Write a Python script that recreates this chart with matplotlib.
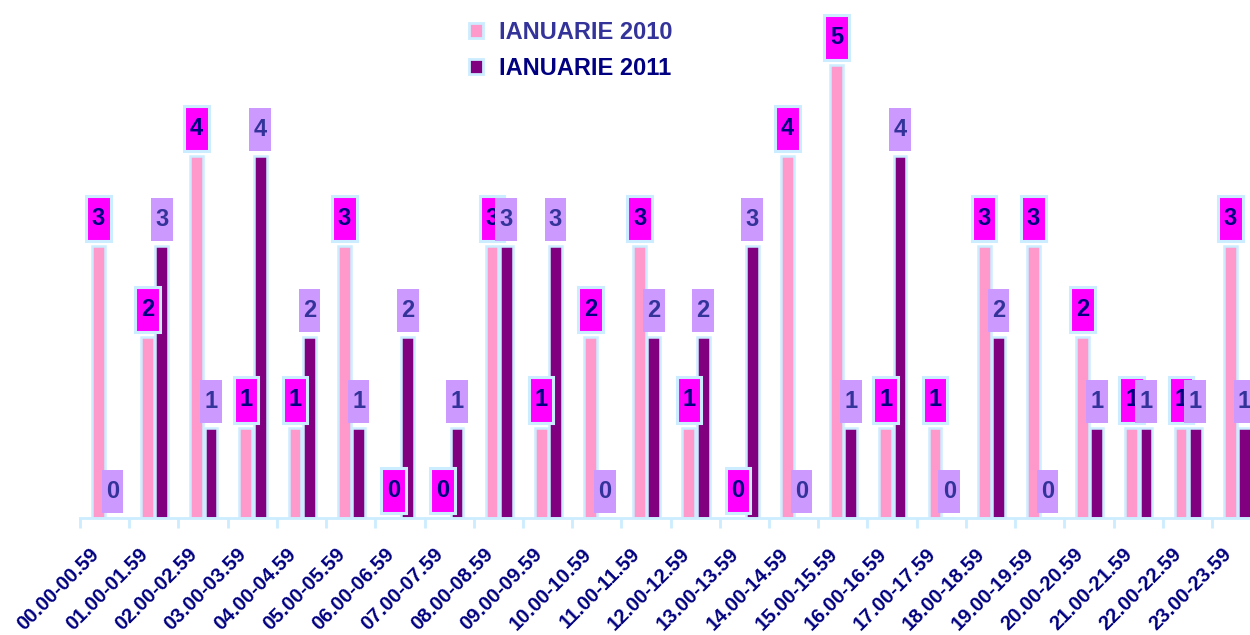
import numpy as np
import matplotlib.pyplot as plt
from matplotlib.patches import Patch

plt.rcParams['font.family'] = ['Liberation Sans', 'DejaVu Sans']
plt.rcParams['font.weight'] = 'bold'

# hour intervals
hours = ['00.00-00.59', '01.00-01.59', '02.00-02.59', '03.00-03.59', '04.00-04.59',
         '05.00-05.59', '06.00-06.59', '07.00-07.59', '08.00-08.59', '09.00-09.59',
         '10.00-10.59', '11.00-11.59', '12.00-12.59', '13.00-13.59', '14.00-14.59',
         '15.00-15.59', '16.00-16.59', '17.00-17.59', '18.00-18.59', '19.00-19.59',
         '20.00-20.59', '21.00-21.59', '22.00-22.59', '23.00-23.59']
ian2010 = [3, 2, 4, 1, 1, 3, 0, 0, 3, 1, 2, 3, 1, 0, 4, 5, 1, 1, 3, 3, 2, 1, 1, 3]
ian2011 = [0, 3, 1, 4, 2, 1, 2, 1, 3, 3, 0, 2, 2, 3, 0, 1, 4, 0, 2, 0, 1, 1, 1, 1]
series_names = ['IANUARIE 2010', 'IANUARIE 2011']

pink = '#FF99CC'
purple = '#800080'
edge = '#CCECFF'
magenta = '#FF00FF'
lavender = '#CC99FF'
navy = '#000080'
slate = '#333399'

fig = plt.figure(figsize=(12.5, 6.35), dpi=100)
ax = fig.add_axes([0.064, 0.184, 0.945, 0.816])

x = np.arange(len(hours))
off1, off2 = -0.13, 0.16
bw = 0.26

ax.bar(x + off1, ian2010, bw, color=pink, edgecolor=edge, linewidth=1.8, zorder=2)
ax.bar(x + off2, ian2011, bw, color=purple, edgecolor=edge, linewidth=1.8, zorder=2)

# value label boxes
gap = 0.055
h1, h2 = 0.50, 0.475
v1 = np.array(ian2010)
v2 = np.array(ian2011)
ax.bar(x + off1, h1, 0.5, bottom=v1 + gap, color=magenta, edgecolor=edge,
       linewidth=2.2, zorder=3)
for xi, v in zip(x, ian2010):
    ax.text(xi + off1, v + gap + h1 / 2, str(v), ha='center', va='center',
            fontsize=17, fontweight='bold', color=navy, zorder=4)
for xi, v in zip(x, ian2011):
    ax.bar(xi + off2, h2, 0.44, bottom=v + gap, color=lavender, linewidth=0, zorder=5)
    ax.text(xi + off2, v + gap + h2 / 2, str(v), ha='center', va='center',
            fontsize=17, fontweight='bold', color=slate, zorder=6)

ax.set_xlim(-0.5, len(hours) - 0.5)
ax.set_ylim(0, 5.72)

for s in ['top', 'right', 'left']:
    ax.spines[s].set_visible(False)
ax.spines['bottom'].set_color(edge)
ax.spines['bottom'].set_linewidth(2)
ax.set_yticks([])

ax.set_xticks(np.arange(len(hours) + 1) - 0.5)
ax.set_xticklabels([])
ax.tick_params(axis='x', which='major', length=7, width=2, color=edge, direction='out')
ax.set_xticks(x - 0.31, minor=True)
ax.set_xticklabels(hours, minor=True, rotation=45, ha='right', rotation_mode='anchor',
                   fontsize=14.5, fontweight='bold', color=navy)
ax.tick_params(axis='x', which='minor', length=0, pad=19)

handles = [Patch(facecolor=pink, edgecolor=edge, linewidth=2),
           Patch(facecolor=purple, edgecolor=edge, linewidth=2)]
leg = fig.legend(handles, series_names, loc='upper left', bbox_to_anchor=(0.358, 1.0),
                 frameon=False, prop={'size': 17, 'weight': 'bold'},
                 handlelength=0.6, handleheight=0.6, handletextpad=0.7, labelspacing=0.55)
leg.get_texts()[0].set_color(slate)
leg.get_texts()[1].set_color(navy)

fig.savefig('out.png', dpi=100)
